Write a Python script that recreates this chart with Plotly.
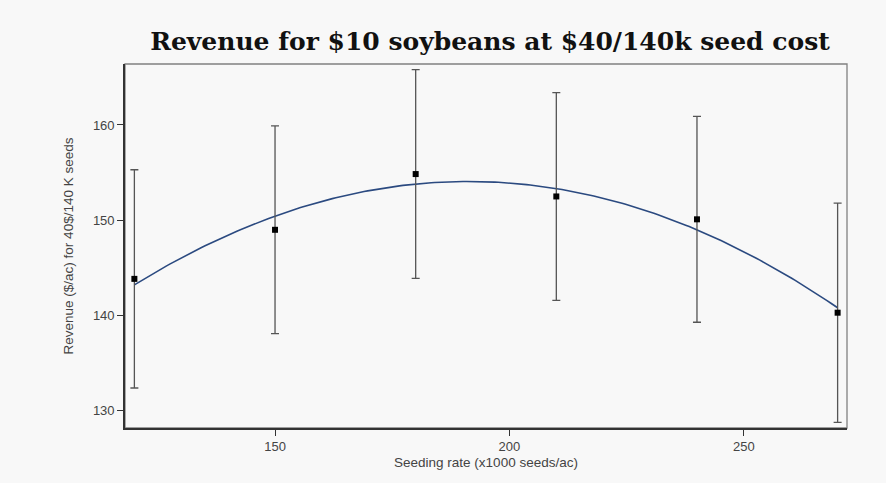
import numpy as np
import plotly.graph_objects as go

# Seeding rate treatments (x1000 seeds/ac)
seeding_rate = [120, 150, 180, 210, 240, 270]
# Mean revenue ($/ac) and half-width of the error bars
revenue = [143.85, 149.0, 154.85, 152.5, 150.1, 140.3]
err = [11.45, 10.9, 10.95, 10.9, 10.8, 11.5]

x_ticks = [150, 200, 250]
y_ticks = [130, 140, 150, 160]

# Quadratic response curve fitted to the treatment means
coef = np.polyfit(seeding_rate, revenue, 2)
xs = np.linspace(min(seeding_rate), max(seeding_rate), 200)
ys = np.polyval(coef, xs)

fig = go.Figure()
fig.add_trace(go.Scatter(
    x=xs, y=ys, mode="lines",
    line=dict(color="#2b4a80", width=1.6),
    hoverinfo="skip", showlegend=False,
))
fig.add_trace(go.Scatter(
    x=seeding_rate, y=revenue, mode="markers",
    marker=dict(symbol="square", size=6, color="black"),
    error_y=dict(type="data", array=err, visible=True,
                 color="#555555", thickness=1.3, width=4),
    showlegend=False,
))

# light frame around the plotting area; left/bottom axis lines drawn darker
fig.add_shape(type="rect", xref="x domain", yref="y domain",
              x0=0, x1=1, y0=0, y1=1,
              line=dict(color="#808080", width=1.3), layer="below")

bg = "#f8f8f8"
fig.update_layout(
    width=886, height=483,
    paper_bgcolor=bg, plot_bgcolor=bg,
    margin=dict(l=125, r=39, t=64, b=55),
    title=dict(
        text="<b>Revenue for $10 soybeans at $40/140k seed cost</b>",
        x=0.553, xanchor="center", y=0.915, yanchor="middle",
        font=dict(family="DejaVu Serif", size=25, color="#111111"),
    ),
    font=dict(family="Liberation Sans, Arial", color="#444444"),
)
fig.update_xaxes(
    range=[118, 272], tickvals=x_ticks, ticks="outside", ticklen=6,
    tickcolor="#333333", tickfont=dict(size=13, color="#444444"),
    showgrid=False, zeroline=False,
    showline=True, linecolor="#333333", linewidth=1.6, mirror=False,
    title=dict(text="Seeding rate (x1000 seeds/ac)",
               font=dict(size=13.5, color="#444444"), standoff=4),
)
fig.update_yaxes(
    range=[128.2, 166.4], tickvals=y_ticks, ticks="outside", ticklen=6,
    tickcolor="#333333", tickfont=dict(size=13, color="#444444"),
    showgrid=False, zeroline=False,
    showline=True, linecolor="#333333", linewidth=1.6, mirror=False,
    title=dict(text="Revenue ($/ac) for 40$/140 K seeds",
               font=dict(size=13.5, color="#444444"), standoff=16),
)

fig.write_html("out.html")
